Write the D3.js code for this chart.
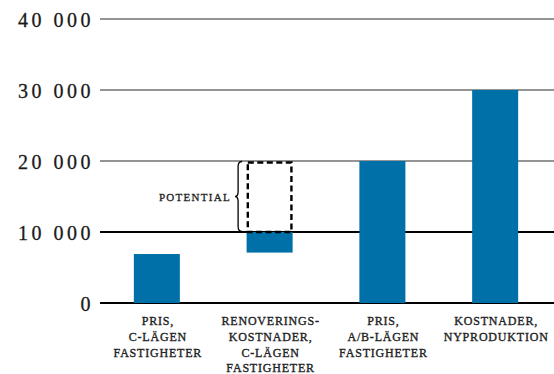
<!DOCTYPE html>
<html>
<head>
<meta charset="utf-8">
<script src="https://cdn.jsdelivr.net/npm/d3@7"></script>
<style>
  html, body { margin: 0; padding: 0; background: #fff; }
  svg { display: block; }
  .tick-label { font-family: "Liberation Serif", serif; font-size: 20px; fill: #1a1a1a; stroke: #1a1a1a; stroke-width: 0.3px; letter-spacing: 3.5px; }
  .cat-label { font-family: "Liberation Serif", serif; font-size: 12px; fill: #1e1e1e; stroke: #1e1e1e; stroke-width: 0.35px; letter-spacing: 0.8px; }
  .note { font-family: "Liberation Serif", serif; font-size: 11px; fill: #1e1e1e; stroke: #1e1e1e; stroke-width: 0.3px; letter-spacing: 1.3px; }
</style>
</head>
<body>
<svg id="chart" width="554" height="374"></svg>
<script>
// Category labels, one entry per bar, split into lines
const categoryLines = [
  ["PRIS,", "C-LÄGEN", "FASTIGHETER"],
  ["RENOVERINGS-", "KOSTNADER,", "C-LÄGEN", "FASTIGHETER"],
  ["PRIS,", "A/B-LÄGEN", "FASTIGHETER"],
  ["KOSTNADER,", "NYPRODUKTION"]
];
// Bar extents (kr per m²): bottom and top of each bar
const barStart = [0, 7100, 0, 0];
const barEnd   = [6900, 10000, 20000, 30000];
// Dashed "potential" box above the renovation bar
const potentialIndex = 1;
const potentialRange = [10000, 20000];
const potentialLabel = "POTENTIAL";
// Y axis ticks
const yTicks = [0, 10000, 20000, 30000, 40000];
const boldTicks = [0, 10000];

const svg = d3.select("#chart");
const W = 554, H = 374;
const plotLeft = 100, plotRight = 552, plotTop = 19, plotBottom = 303;

const x = d3.scaleBand()
  .domain(d3.range(categoryLines.length))
  .range([plotLeft, plotRight])
  .paddingInner(0.592)
  .paddingOuter(0.3);

const y = d3.scaleLinear().domain([0, 40000]).range([plotBottom, plotTop]);

const fmt = d3.formatLocale({ decimal: ",", thousands: " ", grouping: [3], currency: ["", " kr"] }).format(",d");

// Gridlines
svg.append("g").selectAll("line")
  .data(yTicks)
  .join("line")
  .attr("x1", plotLeft).attr("x2", W)
  .attr("y1", d => y(d)).attr("y2", d => y(d))
  .attr("stroke", d => boldTicks.includes(d) ? "#000" : "#2a2a2a")
  .attr("stroke-width", d => boldTicks.includes(d) ? 2.2 : 1);

// Y axis labels
svg.append("g").selectAll("text")
  .data(yTicks)
  .join("text")
  .attr("class", "tick-label")
  .attr("x", 94)
  .attr("y", d => y(d) + 8)
  .attr("text-anchor", "end")
  .text(d => fmt(d));

// Bars
const bars = barEnd.map((v, i) => ({ i, lo: barStart[i], hi: v }));
svg.append("g").selectAll("rect")
  .data(bars)
  .join("rect")
  .attr("x", d => x(d.i))
  .attr("width", x.bandwidth())
  .attr("y", d => y(d.hi))
  .attr("height", d => y(d.lo) - y(d.hi))
  .attr("fill", "#0070a8");

// Dashed potential box
const px = x(potentialIndex);
const pTop = y(potentialRange[1]) + 1.5;
const pBot = y(potentialRange[0]);
svg.append("rect")
  .attr("x", px + 1.2)
  .attr("y", pTop)
  .attr("width", x.bandwidth() - 2.4)
  .attr("height", pBot - pTop)
  .attr("fill", "none")
  .attr("stroke", "#000")
  .attr("stroke-width", 2.4)
  .attr("stroke-dasharray", "6,3.5");

// Curly brace to the left of the potential box
const xr = px - 4.5, xm = px - 8.5, xt = px - 11.5;
const b0 = y(potentialRange[1]) + 0.5, b1 = y(potentialRange[0]) - 0.5, bm = (b0 + b1) / 2, r = 5;
svg.append("path")
  .attr("d", `M${xr},${b0} Q${xm},${b0} ${xm},${b0 + r} L${xm},${bm - r} Q${xm},${bm} ${xt},${bm} ` +
             `Q${xm},${bm} ${xm},${bm + r} L${xm},${b1 - r} Q${xm},${b1} ${xr},${b1}`)
  .attr("fill", "none")
  .attr("stroke", "#000")
  .attr("stroke-width", 1.3);

svg.append("text")
  .attr("class", "note")
  .attr("x", xt - 4)
  .attr("y", bm + 4)
  .attr("text-anchor", "end")
  .text(potentialLabel);

// Category labels
const labels = svg.append("g").selectAll("text")
  .data(categoryLines)
  .join("text")
  .attr("class", "cat-label")
  .attr("text-anchor", "middle")
  .attr("transform", (d, i) => `translate(${x(i) + x.bandwidth() / 2 + 1},0)`);
labels.selectAll("tspan")
  .data(d => d)
  .join("tspan")
  .attr("x", 0)
  .attr("y", (d, j) => 325 + j * 15.8)
  .text(d => d);
</script>
</body>
</html>
